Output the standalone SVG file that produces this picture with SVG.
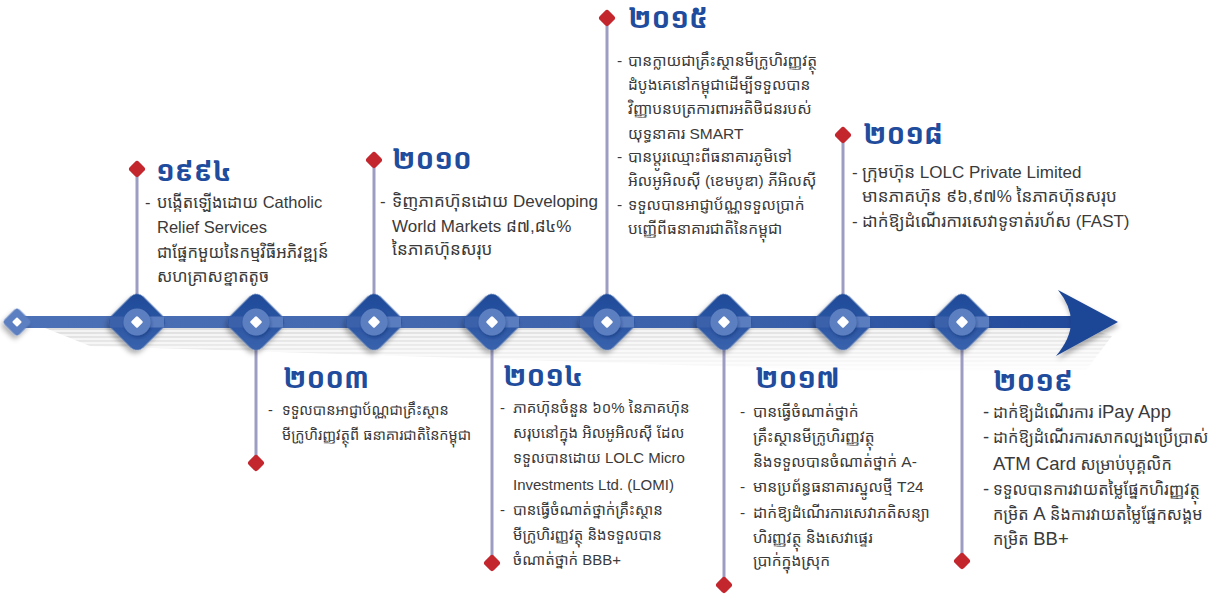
<svg xmlns="http://www.w3.org/2000/svg" xmlns:xlink="http://www.w3.org/1999/xlink" width="1228" height="601" viewBox="0 0 1228 601">
<style>
.yr{font-family:"Liberation Sans","Noto Sans Khmer","Khmer OS",sans-serif;font-weight:bold;fill:#1f4c9d;font-size:28px}
.tx{font-family:"Liberation Sans","Noto Sans Khmer","Khmer OS",sans-serif;fill:#3a3a3a}
.lt{font-size:18.5px}
.vl{stroke:#9d9dc3;stroke-width:3;fill:none}
.red{fill:#c4262e}
</style>
<defs>
<linearGradient id="dia" x1="0" y1="0" x2="1" y2="1"><stop offset="0" stop-color="#1c4897"/><stop offset="1" stop-color="#3b64ae"/></linearGradient>
<linearGradient id="shaft" x1="0" y1="0" x2="1" y2="0"><stop offset="0" stop-color="#4d71b6"/><stop offset="0.7" stop-color="#3a60aa"/><stop offset="1" stop-color="#21499a"/></linearGradient>
<linearGradient id="fade" x1="0" y1="0" x2="0.15" y2="1"><stop offset="0" stop-color="#fff" stop-opacity="0.85"/><stop offset="1" stop-color="#fff" stop-opacity="0"/></linearGradient>
<pattern id="stripes" width="8" height="4" patternUnits="userSpaceOnUse"><rect width="8" height="4" fill="#f0f0f0"/><rect width="8" height="2" fill="#d6d6d6"/></pattern>
<mask id="shm"><rect x="0" y="326" width="1228" height="52" fill="url(#fade)"/></mask>
<filter id="sh" x="-50%" y="-50%" width="200%" height="200%"><feDropShadow dx="1" dy="4" stdDeviation="2.5" flood-color="#000" flood-opacity="0.3"/></filter>
<filter id="sh2" x="-50%" y="-50%" width="200%" height="200%"><feDropShadow dx="1" dy="2" stdDeviation="1.5" flood-color="#0a2a66" flood-opacity="0.4"/></filter>
<g id="node">
<rect x="-22.5" y="-22.5" width="45" height="45" rx="9" transform="rotate(45)" fill="url(#dia)" filter="url(#sh)"/>
<rect x="-27" y="-5.5" width="27" height="11" fill="#3b61ab"/>
<rect x="0" y="-5.5" width="27" height="11" fill="#5a7dbf"/>
<circle r="13.5" fill="#5b7fc1" filter="url(#sh2)"/>
<rect x="-4.5" y="-4.5" width="9" height="9" rx="1.5" transform="rotate(45)" fill="#fff"/>
</g>
<rect id="rd" x="-6.5" y="-6.5" width="13" height="13" rx="3" transform="rotate(45)" class="red"/>
</defs>
<rect width="1228" height="601" fill="#fff"/>

<g id="timeline">
<g mask="url(#shm)"><polygon points="40,326 1080,326 1112,336 1080,378 90,346" fill="url(#stripes)"/></g>
<rect x="17" y="316" width="1056" height="12" fill="url(#shaft)"/>
<path d="M1058,290 L1118,322 L1056,356 Q1071,338 1071,322 Q1071,306 1058,290 Z" fill="#1d4696" filter="url(#sh)"/>
<g transform="translate(17,322)"><rect x="-10.5" y="-10.5" width="21" height="21" rx="4" transform="rotate(45)" fill="#5b7fc1" filter="url(#sh)"/><rect x="-3.5" y="-3.5" width="7" height="7" rx="1" transform="rotate(45)" fill="#fff"/></g>
</g>

<g id="connectors">
<line class="vl" x1="137" y1="169" x2="137" y2="300"/>
<line class="vl" x1="256" y1="345" x2="256" y2="463"/>
<line class="vl" x1="374" y1="160" x2="374" y2="300"/>
<line class="vl" x1="492" y1="345" x2="492" y2="563"/>
<line class="vl" x1="607" y1="18" x2="607" y2="300"/>
<line class="vl" x1="724" y1="345" x2="724" y2="585"/>
<line class="vl" x1="843" y1="135" x2="843" y2="300"/>
<line class="vl" x1="962" y1="345" x2="962" y2="561"/>
</g>

<g id="n1994">
<use href="#node" x="137" y="322"/>
<use href="#rd" x="137" y="169"/>
<text class="yr" x="156" y="181">១៩៩៤</text>
<g class="tx" font-size="16.5">
<text x="145" y="208">-</text>
<text x="157" y="208">បង្កើតឡើងដោយ Catholic</text>
<text x="157" y="233">Relief Services</text>
<text x="157" y="258">ជាផ្នែកមួយនៃកម្មវិធីអភិវឌ្ឍន៍</text>
<text x="157" y="282">សហគ្រាសខ្នាតតូច</text>
</g>
</g>

<g id="n2003">
<use href="#node" x="256" y="322"/>
<use href="#rd" x="256" y="463"/>
<text class="yr" x="283" y="388">២០០៣</text>
<g class="tx" font-size="14.5">
<text x="268" y="415">-</text>
<text x="282" y="415">ទទួលបានអាជ្ញាប័ណ្ណជាគ្រឹះស្ថាន</text>
<text x="282" y="440">មីក្រូហិរញ្ញវត្ថុពី ធនាគារជាតិនៃកម្ពុជា</text>
</g>
</g>

<g id="n2010">
<use href="#node" x="374" y="322"/>
<use href="#rd" x="374" y="160"/>
<text class="yr" x="392" y="169">២០១០</text>
<g class="tx" font-size="17">
<text x="380" y="207">-</text>
<text x="392" y="207">ទិញភាគហ៊ុនដោយ Developing</text>
<text x="392" y="232">World Markets ៨៧,៨៤%</text>
<text x="392" y="255">នៃភាគហ៊ុនសរុប</text>
</g>
</g>

<g id="n2014">
<use href="#node" x="492" y="322"/>
<use href="#rd" x="492" y="563"/>
<text class="yr" x="503" y="386">២០១៤</text>
<g class="tx" font-size="15">
<text x="500" y="413">-</text>
<text x="513" y="413">ភាគហ៊ុនចំនួន ៦០% នៃភាគហ៊ុន</text>
<text x="513" y="438">សរុបនៅក្នុង អិលអូអិលស៊ី ដែល</text>
<text x="513" y="463">ទទួលបានដោយ LOLC Micro</text>
<text x="513" y="490">Investments Ltd. (LOMI)</text>
<text x="500" y="515">-</text>
<text x="513" y="515">បានធ្វើចំណាត់ថ្នាក់គ្រឹះស្ថាន</text>
<text x="513" y="540">មីក្រូហិរញ្ញវត្ថុ និងទទួលបាន</text>
<text x="513" y="565">ចំណាត់ថ្នាក់ BBB+</text>
</g>
</g>

<g id="n2015">
<use href="#node" x="607" y="322"/>
<use href="#rd" x="607" y="18"/>
<text class="yr" x="628" y="28">២០១៥</text>
<g class="tx" font-size="15.5">
<text x="617" y="66">-</text>
<text x="628" y="66">បានក្លាយជាគ្រឹះស្ថានមីក្រូហិរញ្ញវត្ថុ</text>
<text x="628" y="90">ដំបូងគេនៅកម្ពុជាដើម្បីទទួលបាន</text>
<text x="628" y="114">វិញ្ញាបនបត្រការពារអតិថិជនរបស់</text>
<text x="628" y="139">យុទ្ធនាគារ SMART</text>
<text x="617" y="162">-</text>
<text x="628" y="162">បានប្តូរឈ្មោះពីធនាគារភូមិទៅ</text>
<text x="628" y="186">អិលអូអិលស៊ី (ខេមបូឌា) ភីអិលស៊ី</text>
<text x="617" y="210">-</text>
<text x="628" y="210">ទទួលបានអាជ្ញាប័ណ្ណទទួលប្រាក់</text>
<text x="628" y="234">បញ្ញើពីធនាគារជាតិនៃកម្ពុជា</text>
</g>
</g>

<g id="n2017">
<use href="#node" x="724" y="322"/>
<use href="#rd" x="724" y="585"/>
<text class="yr" x="755" y="388">២០១៧</text>
<g class="tx" font-size="15.5">
<text x="740" y="417">-</text>
<text x="753" y="417">បានធ្វើចំណាត់ថ្នាក់</text>
<text x="753" y="442">គ្រឹះស្ថានមីក្រូហិរញ្ញវត្ថុ</text>
<text x="753" y="467">និងទទួលបានចំណាត់ថ្នាក់ A-</text>
<text x="740" y="492">-</text>
<text x="753" y="492">មានប្រព័ន្ធធនាគារស្នូលថ្មី T24</text>
<text x="740" y="518">-</text>
<text x="753" y="518">ដាក់ឱ្យដំណើរការសេវាភតិសន្យា</text>
<text x="753" y="543">ហិរញ្ញវត្ថុ និងសេវាផ្ទេរ</text>
<text x="753" y="566">ប្រាក់ក្នុងស្រុក</text>
</g>
</g>

<g id="n2018">
<use href="#node" x="843" y="322"/>
<use href="#rd" x="843" y="135"/>
<text class="yr" x="863" y="144">២០១៨</text>
<g class="tx" font-size="17">
<text x="852" y="178">-</text>
<text x="862" y="178">ក្រុមហ៊ុន LOLC Private Limited</text>
<text x="862" y="202">មានភាគហ៊ុន ៩៦,៩៧% នៃភាគហ៊ុនសរុប</text>
<text x="852" y="227">-</text>
<text x="862" y="227">ដាក់ឱ្យដំណើរការសេវាទូទាត់រហ័ស (FAST)</text>
</g>
</g>

<g id="n2019">
<use href="#node" x="962" y="322"/>
<use href="#rd" x="962" y="561"/>
<text class="yr" x="993" y="391">២០១៩</text>
<g class="tx" font-size="16.3">
<text x="983" y="418" class="lt">-</text>
<text x="993" y="418">ដាក់ឱ្យដំណើរការ <tspan class="lt">iPay App</tspan></text>
<text x="983" y="443" class="lt">-</text>
<text x="993" y="443">ដាក់ឱ្យដំណើរការសាកល្បងប្រើប្រាស់</text>
<text x="993" y="470"><tspan class="lt">ATM Card</tspan> សម្រាប់បុគ្គលិក</text>
<text x="983" y="495" class="lt">-</text>
<text x="993" y="495">ទទួលបានការវាយតម្លៃផ្នែកហិរញ្ញវត្ថុ</text>
<text x="993" y="520">កម្រិត <tspan class="lt">A</tspan> និងការវាយតម្លៃផ្នែកសង្គម</text>
<text x="993" y="545">កម្រិត <tspan class="lt">BB+</tspan></text>
</g>
</g>
</svg>
